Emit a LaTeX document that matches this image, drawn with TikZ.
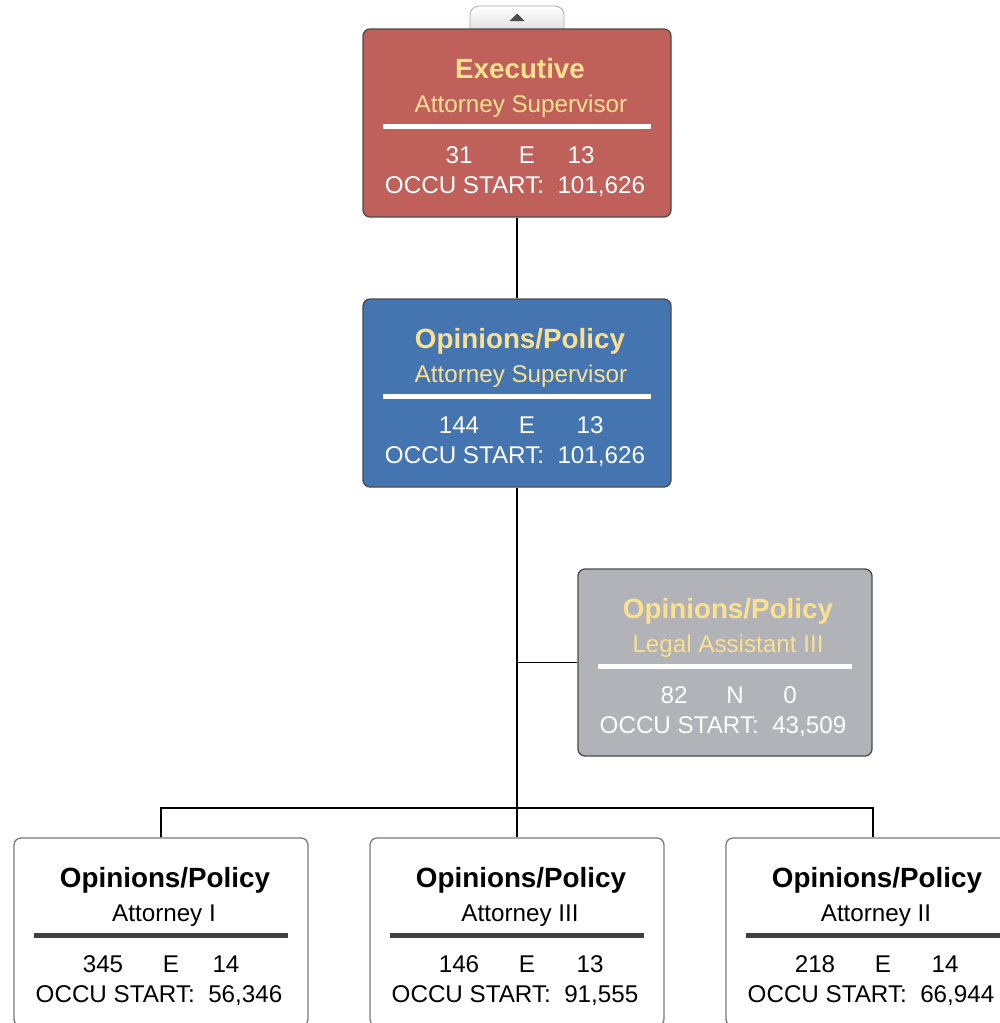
\documentclass[tikz,border=0pt]{standalone}
\usepackage{fontspec}
\setmainfont{Liberation Sans}
\definecolor{execfill}{HTML}{C0605A}
\definecolor{bluefill}{HTML}{4575B0}
\definecolor{grayfill}{HTML}{B1B3B8}
\definecolor{ttlyellow}{HTML}{FBE08F}
\definecolor{boxborder}{HTML}{4A4A4A}
\definecolor{lightborder}{HTML}{7A7A7A}
\definecolor{darksep}{HTML}{404040}
\begin{document}
\begin{tikzpicture}[x=1pt,y=-1pt,
  box/.style={draw=boxborder, line width=1.3pt, rounded corners=7pt, inner sep=0pt, minimum height=188pt},
  wbox/.style={box, draw=lightborder, fill=white, minimum width=294pt},
  ttl/.style={anchor=base, inner sep=0pt, font=\fontsize{27.8}{30}\selectfont\bfseries},
  sub/.style={anchor=base, inner sep=0pt, font=\fontsize{24.2}{28}\selectfont},
  sepw/.style={line width=5pt, white},
  sepd/.style={line width=5pt, darksep},
  conn/.style={line width=1.6pt, black}]
\useasboundingbox (0,0) rectangle (1000,1023);
\clip (0,0) rectangle (1000,1023);

% tab
\draw[draw=gray!65, line width=0.8pt, top color=white, bottom color=gray!25, rounded corners=9pt] (470,32) -- (470,6) -- (564,6) -- (564,32);
\fill[black!70] (509.5,21) -- (524.5,21) -- (517,13.5) -- cycle;

% boxes
\node[box, fill=execfill, minimum width=308pt] (exec) at (517,123) {};
\node[box, fill=bluefill, minimum width=308pt] (op) at (517,393) {};
\node[box, fill=grayfill, minimum width=294pt, minimum height=187pt] (gray) at (725,662.5) {};
\node[wbox] (b1) at (161,932) {};
\node[wbox] (b2) at (517,932) {};
\node[wbox] (b3) at (873,932) {};

% connectors
\coordinate (bus) at (517,808);
\coordinate (junc) at (517,662.5);
\draw[conn] (exec.south) -- (op.north);
\draw[conn] (op.south) -- (b2.north);
\draw[conn] (junc) -- (gray.west);
\draw[conn] (b1.north) |- (bus) -| (b3.north);

% executive text
\node[ttl, text=ttlyellow] (t1) at (520,78) {Executive};
\node[sub, text=ttlyellow] (s1) at (521,112) {Attorney Supervisor};
\draw[sepw] (383,126.5) -- (651,126.5);
\node[sub, text=white] (n1a) at (459,163) {31};
\node[sub, text=white] (n1b) at (527,163) {E};
\node[sub, text=white] (n1c) at (581,163) {13};
\node[sub, text=white] (o1) at (515,193) {OCCU START:\ \ 101,626};

% opinions/policy supervisor
\node[ttl, text=ttlyellow] (t2) at (520,348) {Opinions/Policy};
\node[sub, text=ttlyellow] (s2) at (521,382) {Attorney Supervisor};
\draw[sepw] (383,396.5) -- (651,396.5);
\node[sub, text=white] (n2a) at (459,433) {144};
\node[sub, text=white] (n2b) at (527,433) {E};
\node[sub, text=white] (n2c) at (590,433) {13};
\node[sub, text=white] (o2) at (515,463) {OCCU START:\ \ 101,626};

% legal assistant
\node[ttl, text=ttlyellow] (t3) at (728,618) {Opinions/Policy};
\node[sub, text=ttlyellow] (s3) at (728,652) {Legal Assistant III};
\draw[sepw] (598,666.5) -- (852,666.5);
\node[sub, text=white] (n3a) at (674,703) {82};
\node[sub, text=white] (n3b) at (735,703) {N};
\node[sub, text=white] (n3c) at (790,703) {0};
\node[sub, text=white] (o3) at (723,733) {OCCU START:\ \ 43,509};

% bottom left
\node[ttl] (t4) at (165,887) {Opinions/Policy};
\node[sub] (s4) at (164,921) {Attorney I};
\draw[sepd] (34,935.5) -- (288,935.5);
\node[sub] (n4a) at (103,972) {345};
\node[sub] (n4b) at (171,972) {E};
\node[sub] (n4c) at (226,972) {14};
\node[sub] (o4) at (159,1002) {OCCU START:\ \ 56,346};

% bottom middle
\node[ttl] (t5) at (521,887) {Opinions/Policy};
\node[sub] (s5) at (520,921) {Attorney III};
\draw[sepd] (390,935.5) -- (644,935.5);
\node[sub] (n5a) at (459,972) {146};
\node[sub] (n5b) at (527,972) {E};
\node[sub] (n5c) at (590,972) {13};
\node[sub] (o5) at (515,1002) {OCCU START:\ \ 91,555};

% bottom right
\node[ttl] (t6) at (877,887) {Opinions/Policy};
\node[sub] (s6) at (876,921) {Attorney II};
\draw[sepd] (746,935.5) -- (1000,935.5);
\node[sub] (n6a) at (815,972) {218};
\node[sub] (n6b) at (883,972) {E};
\node[sub] (n6c) at (945,972) {14};
\node[sub] (o6) at (871,1002) {OCCU START:\ \ 66,944};
\end{tikzpicture}
\end{document}
